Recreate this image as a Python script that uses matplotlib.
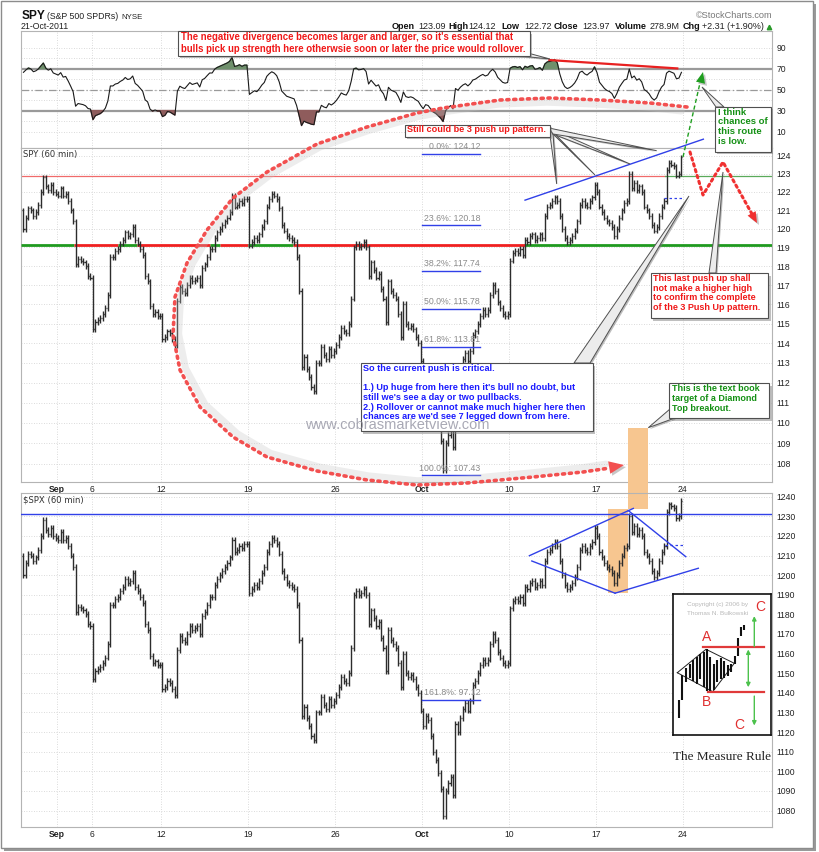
import matplotlib
matplotlib.use('Agg')
import matplotlib.pyplot as plt
from matplotlib.patches import Rectangle, Polygon
from matplotlib.collections import LineCollection
from matplotlib.ticker import NullLocator
import numpy as np

plt.rcParams['font.family'] = ['Liberation Sans', 'DejaVu Sans']

# ---- data (hourly closes, 7 bars per trading day, Aug 30 .. Oct 21 2011) ----
day_ticks = [2, 4, 8, 13, 18, 23, 28, 33, 38]
day_labels = ['Sep', '6', '12', '19', '26', 'Oct', '10', '17', '24']

spx_first_open = 1210
spx_close = [
    [1200, 1206, 1211, 1210, 1207, 1209, 1213],  # Aug 30
    [1220, 1228, 1223, 1221, 1224, 1220, 1219],  # Aug 31
    [1218, 1222, 1218, 1219, 1215, 1210, 1204],  # Sep 1
    [1181, 1184, 1183, 1182, 1180, 1175, 1174],  # Sep 2
    [1147, 1151, 1152, 1153, 1155, 1158, 1165],  # Sep 6
    [1185, 1185, 1188, 1189, 1192, 1194, 1198],  # Sep 7
    [1196, 1197, 1201, 1194, 1192, 1189, 1186],  # Sep 8
    [1175, 1172, 1159, 1155, 1156, 1154, 1154],  # Sep 9
    [1142, 1143, 1146, 1145, 1142, 1139, 1162],  # Sep 12
    [1169, 1167, 1166, 1170, 1174, 1172, 1173],  # Sep 13
    [1174, 1170, 1179, 1181, 1185, 1189, 1189],  # Sep 14
    [1195, 1198, 1200, 1202, 1204, 1206, 1209],  # Sep 15
    [1218, 1212, 1213, 1215, 1214, 1216, 1216],  # Sep 16
    [1191, 1193, 1195, 1194, 1197, 1201, 1204],  # Sep 19
    [1212, 1216, 1219, 1218, 1216, 1211, 1202],  # Sep 20
    [1199, 1196, 1195, 1194, 1193, 1185, 1167],  # Sep 21
    [1128, 1133, 1127, 1123, 1118, 1116, 1130],  # Sep 22
    [1130, 1138, 1134, 1132, 1137, 1134, 1136],  # Sep 23
    [1139, 1143, 1148, 1146, 1145, 1150, 1163],  # Sep 26
    [1190, 1192, 1190, 1191, 1193, 1190, 1175],  # Sep 27
    [1182, 1178, 1174, 1176, 1168, 1163, 1151],  # Sep 28
    [1172, 1167, 1165, 1163, 1155, 1143, 1160],  # Sep 29
    [1150, 1148, 1149, 1147, 1143, 1140, 1131],  # Sep 30
    [1123, 1128, 1126, 1118, 1110, 1106, 1099],  # Oct 3
    [1091, 1077, 1090, 1094, 1097, 1088, 1124],  # Oct 4
    [1120, 1127, 1132, 1135, 1131, 1136, 1144],  # Oct 5
    [1146, 1150, 1154, 1157, 1155, 1157, 1165],  # Oct 6
    [1170, 1167, 1161, 1158, 1155, 1154, 1155],  # Oct 7
    [1183, 1187, 1188, 1187, 1189, 1186, 1194],  # Oct 10
    [1193, 1196, 1197, 1194, 1195, 1197, 1195],  # Oct 11
    [1207, 1212, 1213, 1215, 1217, 1215, 1207],  # Oct 12
    [1200, 1195, 1193, 1194, 1196, 1199, 1204],  # Oct 13
    [1213, 1215, 1213, 1212, 1215, 1217, 1224],  # Oct 14
    [1220, 1212, 1209, 1206, 1204, 1203, 1201],  # Oct 17
    [1196, 1200, 1206, 1210, 1214, 1215, 1230],  # Oct 18
    [1222, 1225, 1221, 1223, 1220, 1212, 1210],  # Oct 19
    [1207, 1202, 1199, 1201, 1207, 1212, 1215],  # Oct 20
    [1232, 1236, 1235, 1234, 1229, 1230, 1238],  # Oct 21
]

spy_first_open = 121.0
spy_close = [
    [120.0, 120.6, 121.1, 121.0, 120.7, 120.9, 121.3],
    [122.0, 122.8, 122.3, 122.1, 122.4, 122.0, 121.9],
    [121.8, 122.2, 121.8, 121.9, 121.5, 121.0, 120.4],
    [118.1, 118.4, 118.3, 118.2, 118.0, 117.5, 117.4],
    [114.7, 115.1, 115.2, 115.3, 115.5, 115.8, 116.5],
    [118.5, 118.5, 118.8, 118.9, 119.2, 119.4, 119.8],
    [119.6, 119.7, 120.1, 119.4, 119.2, 118.9, 118.6],
    [117.5, 117.2, 115.9, 115.5, 115.6, 115.4, 115.4],
    [114.2, 114.3, 114.6, 114.5, 114.2, 113.9, 116.2],
    [116.9, 116.7, 116.6, 117.0, 117.4, 117.2, 117.3],
    [117.4, 117.0, 117.9, 118.1, 118.5, 118.9, 118.9],
    [119.5, 119.8, 120.0, 120.2, 120.4, 120.6, 120.9],
    [121.8, 121.2, 121.3, 121.5, 121.4, 121.6, 121.6],
    [119.1, 119.3, 119.5, 119.4, 119.7, 120.1, 120.4],
    [121.2, 121.6, 121.9, 121.8, 121.6, 121.1, 120.2],
    [119.9, 119.6, 119.5, 119.4, 119.3, 118.5, 116.7],
    [112.8, 113.3, 112.7, 112.3, 111.8, 111.6, 113.0],
    [113.0, 113.8, 113.4, 113.2, 113.7, 113.4, 113.6],
    [113.9, 114.3, 114.8, 114.6, 114.5, 115.0, 116.3],
    [119.0, 119.2, 119.0, 119.1, 119.3, 119.0, 117.5],
    [118.2, 117.8, 117.4, 117.6, 116.8, 116.3, 115.1],
    [117.2, 116.7, 116.5, 116.3, 115.5, 114.3, 116.0],
    [115.0, 114.8, 114.9, 114.7, 114.3, 114.0, 113.1],
    [112.3, 112.8, 112.6, 111.8, 111.0, 110.6, 109.9],
    [109.1, 107.7, 109.0, 109.4, 109.7, 108.8, 112.4],
    [112.0, 112.7, 113.2, 113.5, 113.1, 113.6, 114.4],
    [114.6, 115.0, 115.4, 115.7, 115.5, 115.7, 116.5],
    [117.0, 116.7, 116.1, 115.8, 115.5, 115.4, 115.5],
    [118.3, 118.7, 118.8, 118.7, 118.9, 118.6, 119.4],
    [119.3, 119.6, 119.7, 119.4, 119.5, 119.7, 119.5],
    [120.7, 121.2, 121.3, 121.5, 121.7, 121.5, 120.7],
    [120.0, 119.5, 119.3, 119.4, 119.6, 119.9, 120.4],
    [121.3, 121.5, 121.3, 121.2, 121.5, 121.7, 122.4],
    [122.0, 121.2, 120.9, 120.6, 120.4, 120.3, 120.1],
    [119.6, 120.0, 120.6, 121.0, 121.4, 121.5, 123.0],
    [122.2, 122.5, 122.1, 122.3, 122.0, 121.2, 121.0],
    [120.7, 120.2, 119.9, 120.1, 120.7, 121.2, 121.5],
    [123.2, 123.6, 123.5, 123.4, 122.9, 123.0, 123.9],
]

# RSI(14) state carried in from before the window
rsi_prev_close = 121.0
rsi_seed_gain = 0.45
rsi_seed_loss = 0.15

fib_levels = [124.12, 120.18, 117.74, 115.78, 113.81, 107.43]
fib_labels = ['0.0%: 124.12', '23.6%: 120.18', '38.2%: 117.74',
              '50.0%: 115.78', '61.8%: 113.81', '100.0%: 107.43']

quote = [('Open', '123.09'), ('High', '124.12'), ('Low', '122.72'),
         ('Close', '123.97'), ('Volume', '278.9M'), ('Chg', '+2.31 (+1.90%)')]

# Bulkowski measure-rule sketch (its own little picture coordinates)
inset_bar_x = [6, 8.5, 13, 16.5, 20, 23.5, 27, 30.5, 33.5, 37, 40.5, 44, 47.5, 51, 54.5, 58, 61.5, 64.5, 68, 71]
inset_bar_hi = [106, 81, 74, 70, 66, 63, 60, 58, 55, 63, 70, 66, 64, 67, 71, 70, 62, 44, 33, 31]
inset_bar_lo = [124, 106, 88, 84, 87, 90, 85, 93, 97, 98, 96, 88, 85, 84, 82, 78, 70, 62, 42, 36]

W, H = 820, 852
X0, X1 = -0.07, 43.14
BAR_COL = '#2c2c2c'
GRID = dict(color='#cfcfcf', linestyle=(0, (1, 2)), linewidth=0.6)
RED = '#f01818'
BLUE = '#1a1aff'
GREEN = '#149014'
LINEBLUE = '#3040e8'


def rect(x0, y0, x1, y1):
    return [x0 / W, 1 - y1 / H, (x1 - x0) / W, (y1 - y0) / H]


def bar_x(n):
    i = np.arange(n)
    return i // 7 + (i % 7 + 0.5) / 7


def draw_bars(ax, closes, first_open, pad):
    c = np.array(closes, dtype=float).ravel()
    o = np.concatenate([[first_open], c[:-1]])
    x = bar_x(len(c))
    lo = np.minimum(o, c) - pad
    hi = np.maximum(o, c) + pad
    segs = [[(xi, l), (xi, h)] for xi, l, h in zip(x, lo, hi)]
    segs += [[(xi - 0.06, oi), (xi, oi)] for xi, oi in zip(x, o)]
    segs += [[(xi, ci), (xi + 0.06, ci)] for xi, ci in zip(x, c)]
    ax.add_collection(LineCollection(segs, colors=BAR_COL, linewidths=1.0, zorder=3))


def style_axis(ax, show_dates):
    ax.set_xlim(X0, X1)
    ax.set_xticks(day_ticks)
    ax.yaxis.tick_right()
    ax.tick_params(axis='both', which='both', length=0, labelsize=6.2,
                   labelcolor='#222222', pad=3)
    ax.tick_params(axis='x', pad=2.5)
    ax.grid(True, **GRID)
    ax.set_axisbelow(True)
    for s in ax.spines.values():
        s.set_color('#b4b4b4')
        s.set_linewidth(0.8)
    if show_dates:
        ax.set_xticklabels(day_labels)
        for t in ax.get_xticklabels():
            if t.get_text() in ('Sep', 'Oct'):
                t.set_fontweight('bold')
    else:
        ax.set_xticklabels([])


fig = plt.figure(figsize=(W / 100, H / 100), dpi=100)
fig.patch.set_facecolor('white')

ax_rsi = fig.add_axes(rect(21, 31, 772, 148.3))
ax_spy = fig.add_axes(rect(21, 148.3, 772, 481.7))
ax_spx = fig.add_axes(rect(21, 493.3, 772, 826.7))

# ---- RSI panel ----
spy_c = np.array(spy_close, dtype=float).ravel()
prev = np.concatenate([[rsi_prev_close], spy_c[:-1]])
g, l = rsi_seed_gain, rsi_seed_loss
rsi = []
for d in spy_c - prev:
    g = (g * 13 + max(d, 0)) / 14
    l = (l * 13 + max(-d, 0)) / 14
    rsi.append(100 - 100 / (1 + g / l))
rsi = np.array(rsi)
xr = bar_x(len(rsi))
style_axis(ax_rsi, False)
ax_rsi.set_ylim(-6.0, 105.9)
ax_rsi.set_yticks([10, 30, 50, 70, 90])
ax_rsi.set_yticks([20, 40, 60, 80], minor=True)
ax_rsi.grid(True, which='minor', axis='y', **GRID)
ax_rsi.axhline(70, color='#9a9a9a', lw=1.6, zorder=2)
ax_rsi.axhline(30, color='#9a9a9a', lw=1.6, zorder=2)
ax_rsi.axhline(50, color='#9a9a9a', lw=0.9, ls=(0, (6, 2, 1, 2)), zorder=2)
ax_rsi.fill_between(xr, rsi, 70, where=rsi > 70, interpolate=True, color='#6f906c', zorder=2.5)
ax_rsi.fill_between(xr, rsi, 30, where=rsi < 30, interpolate=True, color='#8f5c5c', zorder=2.5)
ax_rsi.plot(xr, rsi, color='#1a1a1a', lw=0.8, zorder=3)
ax_rsi.plot([30.33, 37.69], [78.2, 70.2], color='#e82020', lw=1.6, zorder=4)

# ---- SPY panel ----
style_axis(ax_spy, True)
ax_spy.set_yscale('log')
ax_spy.set_ylim(107.13, 124.41)
ax_spy.set_yticks(range(108, 125))
ax_spy.set_yticklabels([str(v) for v in range(108, 125)])
ax_spy.yaxis.set_minor_locator(NullLocator())
draw_bars(ax_spy, spy_close, spy_first_open, 0.15)

ax_spy.plot([X0, 36.98], [122.9, 122.9], color='#f06a6a', lw=0.9, zorder=2)
ax_spy.plot([36.98, X1], [122.9, 122.9], color='#5aaa5a', lw=0.9, zorder=2)
breaks = [X0, 3.0, 5.51, 6.61, 10.81, 11.38, 13.0, 15.58, 28.93, X1]
for i in range(len(breaks) - 1):
    ax_spy.plot([breaks[i], breaks[i + 1]], [119.14, 119.14], lw=2.0, zorder=2.6,
                color='#1f9a1f' if i % 2 == 0 else '#f02020', solid_capstyle='butt')

for lev, lab in zip(fib_levels, fib_labels):
    ax_spy.plot([23.0, 26.35], [lev, lev], color=LINEBLUE, lw=1.0, zorder=4)
    ax_spy.annotate(lab, (26.35, lev), xytext=(0, 2), textcoords='offset points',
                    ha='right', va='bottom', fontsize=6.3, color='#8a8a8a', zorder=4)

ax_spy.plot([28.93, 39.19], [121.55, 124.92], color=LINEBLUE, lw=1.0, clip_on=False, zorder=5)
ax_spy.plot([36.9, 38.0], [121.65, 121.65], color=LINEBLUE, lw=0.9, ls=(0, (2, 2)), zorder=5)

# ---- SPX panel ----
style_axis(ax_spx, True)
ax_spx.set_ylim(1071.8, 1241.7)
ax_spx.set_yticks(range(1080, 1241, 10))
ax_spx.add_patch(Rectangle((33.72, 1190.8), 1.15, 42.9, fc='#f7c690', ec='none', zorder=1))
ax_spx.add_patch(Rectangle((34.87, 1233.7), 1.15, 41.5, fc='#f7c690', ec='none',
                           zorder=1, clip_on=False))
draw_bars(ax_spx, spx_close, spx_first_open, 1.5)
ax_spx.axhline(1231.0, color=LINEBLUE, lw=1.0, zorder=4)
ax_spx.plot([23.0, 26.35], [1136.4, 1136.4], color=LINEBLUE, lw=1.0, zorder=4)
ax_spx.annotate('161.8%: 97.12', (26.35, 1136.4), xytext=(0, 2), textcoords='offset points',
                ha='right', va='bottom', fontsize=6.3, color='#8a8a8a', zorder=4)
for (xa, ya), (xb, yb) in [((29.18, 1209.9), (35.16, 1234.0)),
                           ((34.87, 1232.9), (38.18, 1209.4)),
                           ((29.32, 1207.2), (34.11, 1190.8)),
                           ((34.11, 1190.8), (38.90, 1203.5))]:
    ax_spx.plot([xa, xb], [ya, yb], color=LINEBLUE, lw=1.0, zorder=5)
ax_spx.plot([36.98, 38.03], [1215.4, 1215.4], color=LINEBLUE, lw=0.9, ls=(0, (2, 2)), zorder=5)

# ---- measure rule sketch ----
ax_in = fig.add_axes(rect(673.3, 594.3, 771, 735))
ax_in.set_xlim(0, 97.7)
ax_in.set_ylim(140.7, 0)
ax_in.set_xticks([])
ax_in.set_yticks([])
for s in ax_in.spines.values():
    s.set_color('#111111')
    s.set_linewidth(1.2)
ax_in.plot([4, 32.7, 61, 39.4, 4], [78.4, 55, 69, 97.4, 78.4], color='#222222', lw=0.7)
ax_in.vlines(inset_bar_x, inset_bar_hi, inset_bar_lo, color='#111111', lw=1.5)
ax_in.plot([30, 90.7], [53, 53], color='#e03a3a', lw=1.6)
ax_in.plot([35, 90.7], [97.4, 97.4], color='#e03a3a', lw=1.6)
arrow_kw = dict(color='#4cc24c', lw=1.0, mutation_scale=6)
ax_in.annotate('', xy=(81, 19), xytext=(81, 55), arrowprops=dict(arrowstyle='-|>', **arrow_kw))
ax_in.annotate('', xy=(75, 52.4), xytext=(75, 95.7), arrowprops=dict(arrowstyle='<|-|>', **arrow_kw))
ax_in.annotate('', xy=(81, 134), xytext=(81, 99), arrowprops=dict(arrowstyle='-|>', **arrow_kw))
ax_in.text(13.4, 12, 'Copyright (c) 2006 by', fontsize=4.6, color='#b9b9b9')
ax_in.text(13.4, 20.5, 'Thomas N. Bulkowski', fontsize=4.6, color='#b9b9b9')
for lx, ly, lt in [(87.4, 12.4, 'C'), (33.4, 42.4, 'A'), (33.4, 108, 'B'), (66, 130.7, 'C')]:
    ax_in.text(lx, ly, lt, fontsize=10, color='#e03030', ha='center', va='center')

# ---- overlay for callouts, header and frame ----
ov = fig.add_axes([0, 0, 1, 1], zorder=5)
ov.set_xlim(0, W)
ov.set_ylim(H, 0)
ov.set_axis_off()


def box(x0, y0, x1, y1, z=20):
    ov.add_patch(Rectangle((x0 + 2.5, y0 + 2.5), x1 - x0, y1 - y0, fc='#808080',
                           ec='none', alpha=0.5, zorder=z))
    ov.add_patch(Rectangle((x0, y0), x1 - x0, y1 - y0, fc='white', ec='#505050',
                           lw=0.8, zorder=z + 0.1))


def wedge(b1, b2, tip, z=19):
    pts = [b1, b2, tip]
    ov.add_patch(Polygon([(x + 1.5, y + 1.5) for x, y in pts], fc='#7a7a7a', ec='none',
                         alpha=0.5, zorder=z))
    ov.add_patch(Polygon(pts, fc='#ececec', ec='#505050', lw=0.7, zorder=z + 0.05))


def head(tip, frm, size, color, z=18):
    d = np.subtract(tip, frm).astype(float)
    d /= np.hypot(*d)
    n = np.array([-d[1], d[0]])
    base = np.array(tip) - d * size
    pts = [tip, base + n * size * 0.42, base - n * size * 0.42]
    ov.add_patch(Polygon([(x + 2, y + 2) for x, y in pts], fc='#909090', ec='none',
                         alpha=0.5, zorder=z - 0.1))
    ov.add_patch(Polygon(pts, fc=color, ec='none', zorder=z))


def note(x, y, s, color, size=6.5, ls=1.25):
    ov.text(x, y, s, color=color, fontsize=size, fontweight='bold', ha='left', va='top',
            linespacing=ls, zorder=25)


# big dotted curve
curve = np.array([(687, 107), (650, 103), (600, 100), (550, 98), (500, 100), (443, 108),
                  (417, 113), (367, 127), (317, 144), (267, 172), (233, 198), (207, 230),
                  (187, 263), (175, 297), (173, 335), (180, 370), (200, 407), (233, 437),
                  (267, 457), (317, 471), (367, 480), (417, 485), (467, 483), (533, 477),
                  (583, 472), (610, 468)], dtype=float)
centre = np.array([430.0, 290.0])
inner = centre + (curve - centre) * 0.978
ov.plot(inner[:, 0], inner[:, 1], color='#c4c4c4', lw=5, alpha=0.3, zorder=12,
        solid_capstyle='round')
ov.plot(curve[:, 0], curve[:, 1], color='#f25050', lw=2.6, ls=(0, (0.6, 1.3)),
        dash_capstyle='round', zorder=13)
head((624, 465), (583, 472), 15, '#f25050', z=14)

# red zigzag
zz = np.array([(690, 152), (703, 195), (723, 162), (752, 214)], dtype=float)
ov.plot(zz[:, 0], zz[:, 1], color='#f03030', lw=2.2, ls=(0, (0.8, 1.2)),
        dash_capstyle='round', zorder=13)
head((757, 223), (723, 162), 11, '#f03030', z=14)

# green dashed arrow
ov.plot([683, 700], [157, 83], color='#1f9e1f', lw=1.0, ls=(0, (3, 2)), zorder=13)
head((703, 72), (683, 157), 11, '#1f9e1f', z=14)

# header
ov.text(22, 19.3, 'SPY', fontsize=8.6, fontweight='bold', color='#111111', zorder=25)
ov.text(47, 19.3, '(S&P 500 SPDRs)', fontsize=6.3, color='#222222', zorder=25)
ov.text(121, 19.3, 'NYSE', fontsize=5.6, color='#222222', zorder=25)
ov.text(21, 29.3, '21-Oct-2011', fontsize=6.3, color='#222222', zorder=25)
ov.text(773, 18.3, '\u00a9StockCharts.com', fontsize=6.6, color='#777777', ha='right', zorder=25)
qx = [391.7, 418, 448.3, 468.3, 501.7, 524, 553.3, 582.7, 615, 650, 682.7, 701.7]
for i, (k, v) in enumerate(quote):
    ov.text(qx[2 * i], 29.3, k, fontsize=6.5, fontweight='bold', color='#111111', zorder=25)
    ov.text(qx[2 * i + 1], 29.3, v, fontsize=6.5, color='#222222', zorder=25)
ov.plot([769], [26.5], marker='^', ms=3.2, color='#2a9a2a', zorder=25)
ov.text(23, 154.5, 'SPY (60 min)', fontsize=6.1, color='#333333', family='DejaVu Sans',
        va='center', zorder=6)
ov.text(23, 499.5, '$SPX (60 min)', fontsize=6.1, color='#333333', family='DejaVu Sans',
        va='center', zorder=6)

# watermark
ov.text(305, 425, 'www.cobrasmarketview.com', fontsize=10.5, color='#8c8c9c', alpha=0.75,
        va='center', zorder=30)

# callouts
wedge((510, 55), (524, 52), (550, 59))
box(178, 31, 530, 55.5)
note(181, 32.3, "The negative divergence becomes larger and larger, so it's essential that\n"
     "bulls pick up strength here otherwsie soon or later the price would rollover.", RED,
     size=6.9, ls=1.2)

wedge((716, 107), (724, 107), (702, 87))
box(715, 106.7, 770.7, 151.7)
note(718, 107.6, 'I think\nchances of\nthis route\nis low.', GREEN, size=6.8, ls=1.1)

for tip in [(556.7, 184), (595, 175), (630, 164), (656.7, 150.7)]:
    wedge((549, 128), (553, 134), tip)
box(405, 124.5, 550, 136.7)
note(407.5, 125.0, 'Still could be 3 push up pattern.', RED, size=6.6)

wedge((574, 363), (590, 363), (689, 196))
box(361, 363.3, 592.7, 431)
note(363, 363.8, 'So the current push is critical.\n\n'
     "1.) Up huge from here then it's bull no doubt, but\n"
     "still we's see a day or two pullbacks.\n"
     "2.) Rollover or cannot make much higher here then\n"
     "chances are we'd see 7 legged down from here.", BLUE, size=6.6, ls=1.1)

wedge((709, 273), (716, 273), (723, 172))
box(650.7, 273.3, 768.3, 318.3)
note(653, 273.8, 'This last push up shall\nnot make a higher high\nto confirm the complete\n'
     'of the 3 Push Up pattern.', RED, size=6.45, ls=1.12)

wedge((670, 409), (674, 418.3), (648.3, 427.7))
box(669.3, 383.3, 769.3, 418.3)
note(672, 383.8, 'This is the text book\ntarget of a Diamond\nTop breakout.', GREEN, size=6.45,
     ls=1.13)

ov.text(722, 757, 'The Measure Rule', fontsize=9.5, family='Liberation Serif', color='#222222',
        ha='center', va='center', zorder=25)

# outer frame with shadow
ov.add_patch(Rectangle((813.5, 4), 3, 846, fc='#9a9a9a', ec='none', zorder=1))
ov.add_patch(Rectangle((4, 847.5), 812, 3, fc='#9a9a9a', ec='none', zorder=1))
ov.add_patch(Rectangle((1, 1), 812.5, 846.5, fill=False, ec='#8c8c8c', lw=1.0, zorder=2))

fig.savefig('out.png', dpi=100, facecolor='white')
